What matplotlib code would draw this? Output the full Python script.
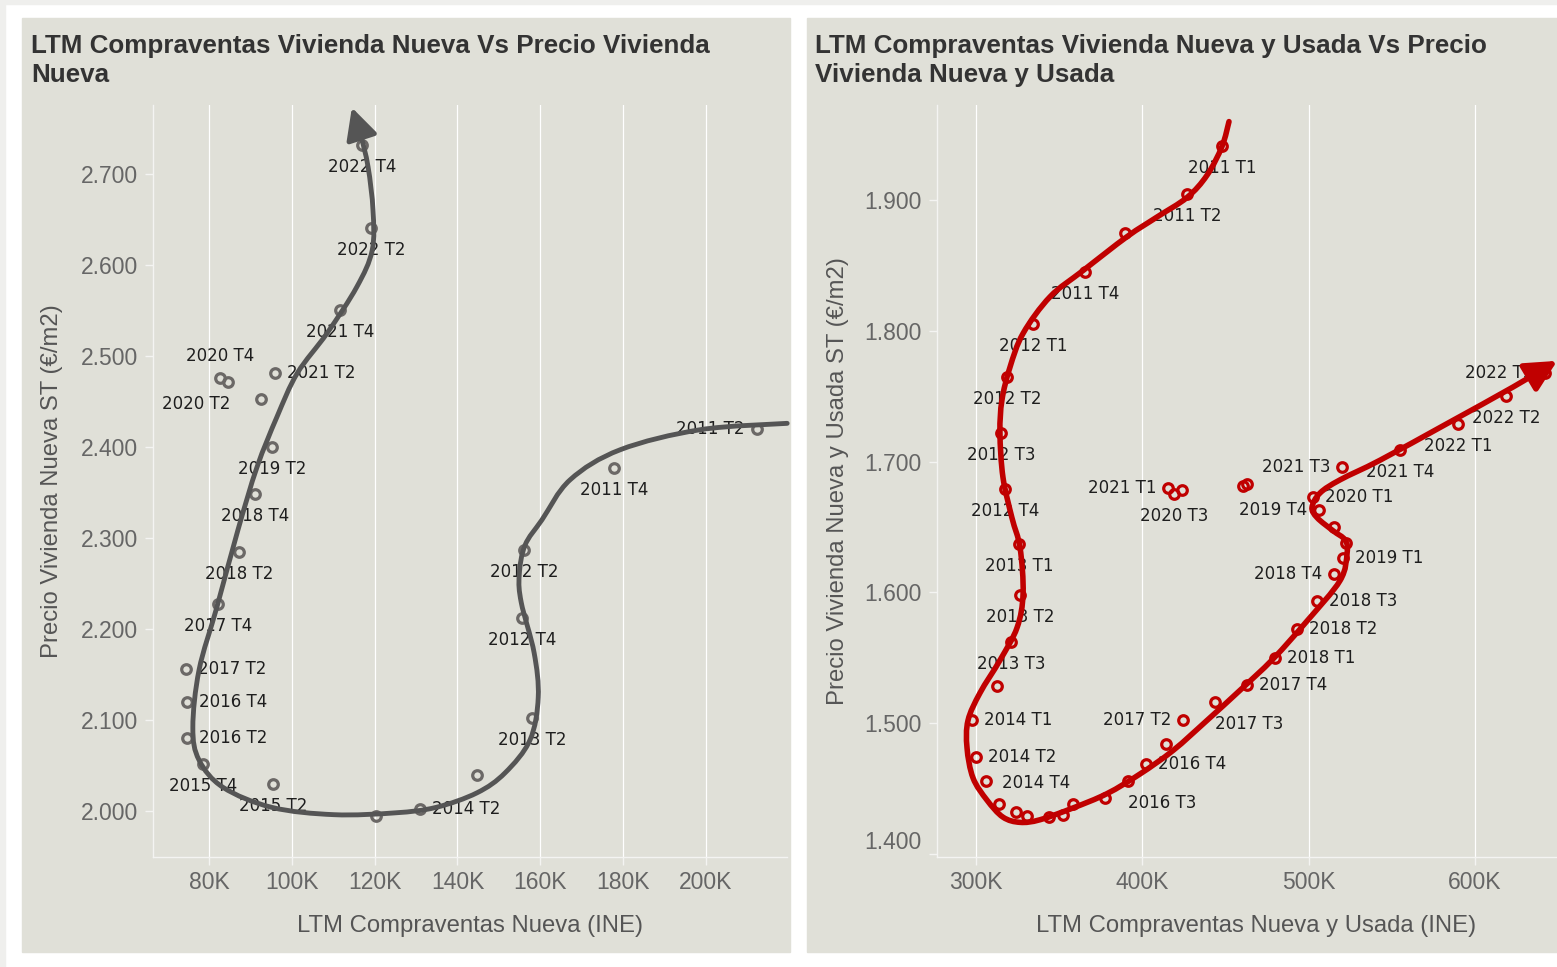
import numpy as np
import matplotlib
matplotlib.use("Agg")
from matplotlib import pyplot as plt
from matplotlib.path import Path
from matplotlib.patches import FancyArrowPatch, Rectangle

# ---- left chart: new homes, half-yearly (LTM sales in thousands, price EUR/m2)
leftPeriods = ["2011 T2", "2011 T4", "2012 T2", "2012 T4", "2013 T2", "2013 T4",
               "2014 T2", "2014 T4", "2015 T2", "2015 T4", "2016 T2", "2016 T4",
               "2017 T2", "2017 T4", "2018 T2", "2018 T4", "2019 T2", "2019 T4",
               "2020 T2", "2020 T4", "2021 T2", "2021 T4", "2022 T2", "2022 T4"]
leftSalesK = [212.3, 177.8, 156.1, 155.6, 158.0, 144.7, 130.9, 120.3, 95.5, 78.6,
              74.7, 74.7, 74.4, 82.2, 87.2, 91.1, 95.2, 92.6, 84.6, 82.7,
              95.9, 111.6, 119.1, 116.9]
leftPrice = [2420, 2377, 2287, 2212, 2102, 2040, 2002, 1995, 2030, 2052,
             2080, 2120, 2156, 2227, 2285, 2348, 2400, 2453, 2471, 2476,
             2481, 2551, 2641, 2732]
leftLabelPos = {"2011 T2": "left", "2011 T4": "below", "2012 T2": "below", "2012 T4": "below",
                "2013 T2": "below", "2014 T2": "right", "2015 T2": "below", "2015 T4": "below",
                "2016 T2": "right", "2016 T4": "right", "2017 T2": "right", "2017 T4": "below",
                "2018 T2": "below", "2018 T4": "below", "2019 T2": "below", "2020 T2": "below-left",
                "2020 T4": "above", "2021 T2": "right", "2021 T4": "below", "2022 T2": "below",
                "2022 T4": "below"}
# hand drawn trend arrow (waypoints)
leftTrendX = [219.6, 198.6, 179.3, 167.2, 160.4, 156.3, 154.9, 155.4, 158.5, 159.5, 157.5,
              151.5, 144.7, 134.8, 124.9, 110.2, 95.2, 83.4, 77.6, 76.1, 77.6, 81.9, 87.0,
              91.6, 96.4, 101.3, 108.5, 115.7, 119.4, 119.6, 118.4, 116.5, 114.5]
leftTrendY = [2426, 2419, 2397, 2364, 2320, 2292, 2259, 2229, 2174, 2125, 2078,
              2042, 2020, 2004, 1998, 1996, 2004, 2026, 2056, 2092, 2155, 2224, 2309,
              2378, 2433, 2481, 2525, 2576, 2616, 2660, 2708, 2745, 2773]

# ---- right chart: new + used homes, quarterly
rightPeriods = [f"{y} T{q}" for y in range(2011, 2023) for q in range(1, 5)][:47]
rightSalesK = [447.9, 426.9, 389.6, 365.5, 334.3, 318.6, 315.0, 317.4, 325.9, 326.5,
               321.0, 312.6, 297.6, 300.0, 306.0, 313.8, 324.1, 330.7, 343.9, 352.3,
               358.3, 377.6, 391.4, 402.2, 414.3, 424.5, 443.7, 463.0, 479.8, 493.0,
               505.1, 515.3, 520.7, 522.5, 515.3, 506.3, 502.6, 460.6, 419.1, 423.9,
               415.5, 463.0, 520.1, 555.0, 589.8, 618.7, 642.1]
rightPrice = [1941, 1905, 1875, 1845, 1805, 1765, 1722, 1679, 1637, 1598,
              1562, 1528, 1502, 1474, 1456, 1438, 1432, 1429, 1428, 1430,
              1438, 1443, 1456, 1469, 1484, 1502, 1516, 1529, 1550, 1572,
              1593, 1614, 1626, 1638, 1650, 1663, 1673, 1681, 1675, 1678,
              1680, 1683, 1696, 1709, 1729, 1750, 1768]
rightLabelPos = {"2011 T1": "below", "2011 T2": "below", "2011 T4": "below", "2012 T1": "below",
                 "2012 T2": "below", "2012 T3": "below", "2012 T4": "below", "2013 T1": "below",
                 "2013 T2": "below", "2013 T3": "below", "2014 T1": "right", "2014 T2": "right",
                 "2014 T4": "above-right", "2016 T3": "below-right", "2016 T4": "right",
                 "2017 T2": "left", "2017 T3": "below-right", "2017 T4": "right", "2018 T1": "right",
                 "2018 T2": "right", "2018 T3": "right", "2018 T4": "left", "2019 T1": "right",
                 "2019 T4": "left", "2020 T1": "right", "2020 T3": "below", "2021 T1": "left",
                 "2021 T3": "left", "2021 T4": "below", "2022 T1": "below", "2022 T2": "below",
                 "2022 T3": "left"}
rightTrendX = [452.1, 447.9, 438.9, 426.9, 408.8, 390.8, 364.3, 344.5, 328.3, 320.4, 315.6,
               314.4, 316.2, 321.6, 326.5, 328.3, 324.7, 314.4, 302.4, 295.2, 294.6, 298.2,
               306.6, 316.2, 326.5, 338.5, 358.3, 378.8, 398.6, 418.5, 438.9, 458.7, 478.6,
               499.0, 518.9, 523.1, 521.9, 514.7, 505.1, 502.0, 506.9, 518.9, 542.9, 583.2,
               622.9, 649.4]
rightTrendY = [1960, 1941, 1919, 1902, 1887, 1872, 1846, 1826, 1798, 1772, 1747,
               1722, 1688, 1657, 1634, 1599, 1573, 1548, 1523, 1502, 1481, 1458,
               1441, 1428, 1424, 1426, 1435, 1446, 1461, 1479, 1502, 1525, 1549,
               1578, 1609, 1630, 1640, 1647, 1657, 1665, 1676, 1686, 1701, 1729,
               1757, 1777]

W, H = 1557, 967
PANEL = "#e0e0d8"
TEXT = "#333333"
TICK = "#666666"
# label placement: (dx px, dy px, ha)
PLACE = {"below": (0, -22, "center"), "above": (0, 22, "center"),
         "right": (12, 0, "left"), "left": (-12, 0, "right"),
         "below-right": (0, -22, "left"), "above-right": (3, 21, "left"),
         "below-left": (2, -22, "right")}

plt.rcParams["font.family"] = ["Liberation Sans", "DejaVu Sans"]


def smoothPath(xs, ys):
    # catmull-rom through the waypoints, as cubic bezier segments
    pts = np.column_stack([xs, ys]).astype(float)
    ext = np.vstack([pts[0], pts, pts[-1]])
    verts = [pts[0]]
    codes = [Path.MOVETO]
    for i in range(1, len(ext) - 2):
        p0, p1, p2, p3 = ext[i-1], ext[i], ext[i+1], ext[i+2]
        verts += [p1 + (p2 - p0) / 6, p2 - (p3 - p1) / 6, p2]
        codes += [Path.CURVE4] * 3
    return Path(verts, codes)


def thousands(v, pos=None):
    return f"{v:,.0f}".replace(",", ".")


def drawPanel(rect, titleLines, titleX, xs, ys, periods, labelPos, trendX, trendY,
              color, lineColor, lineWidth, xlim, ylim, xticks, yticks, xlabel, ylabel, xlabelX):
    ax = fig.add_axes(rect)
    ax.set_facecolor("none")
    for i, line in enumerate(titleLines):
        fig.text(titleX / W, 1 - (53 + 29 * i) / H, line, fontsize=18.7, fontweight="bold",
                 color=TEXT, ha="left", va="baseline")
    ax.plot(xs, ys, "o", ms=6.9, mfc="none", mec=color, mew=2.3, zorder=3)
    for x, y, p in zip(xs, ys, periods):
        if p in labelPos:
            dx, dy, ha = PLACE[labelPos[p]]
            ax.annotate(p, (x, y), xytext=(dx * 0.72, dy * 0.72), textcoords="offset points",
                        ha=ha, va="center", fontsize=12, color="#1e1e1e",
                        family="DejaVu Sans", zorder=4, annotation_clip=False)
    arrow = FancyArrowPatch(path=smoothPath(trendX, trendY),
                            arrowstyle="-|>,head_length=0.95,head_width=0.48",
                            mutation_scale=20, lw=lineWidth, color=lineColor,
                            transform=ax.transData, zorder=5)
    arrow.set_clip_on(False)
    ax.add_artist(arrow)
    ax.set_xlim(*xlim)
    ax.set_ylim(*ylim)
    ax.set_xticks(xticks, [f"{v:.0f}K" for v in xticks])
    ax.set_yticks(yticks, [thousands(v) for v in yticks])
    ax.grid(axis="x", color="white", lw=0.9)
    ax.set_axisbelow(True)
    for s in ["top", "right"]:
        ax.spines[s].set_visible(False)
    for s in ["left", "bottom"]:
        ax.spines[s].set_color("#f4f4f2")
        ax.spines[s].set_linewidth(1.0)
    ax.tick_params(length=6, width=1, color="#f4f4f2", labelcolor=TICK, labelsize=16.5)
    ax.tick_params(axis="x", pad=4)
    ax.tick_params(axis="y", pad=5)
    ax.set_xlabel(xlabel, fontsize=17.2, color="#555555")
    ax.set_ylabel(ylabel, fontsize=17.2, color="#555555")
    ax.xaxis.set_label_coords(xlabelX, -0.0918)
    ax.xaxis.label.set_verticalalignment("center")
    ax.yaxis.set_label_coords(-0.1600, 0.5)
    ax.yaxis.label.set_verticalalignment("center")
    return ax


fig = plt.figure(figsize=(W / 100, H / 100), dpi=100)
fig.set_facecolor("white")
# thin grey frame at top / left and the two panel backgrounds (behind the axes)
fig.patches.append(Rectangle((0, 1 - 4 / H), 1, 4 / H, transform=fig.transFigure,
                             color="#efefed", zorder=-2))
fig.patches.append(Rectangle((0, 0), 5 / W, 1, transform=fig.transFigure,
                             color="#efefed", zorder=-2))
fig.patches.append(Rectangle((22 / W, 15 / H), 768 / W, 934 / H, transform=fig.transFigure,
                             color=PANEL, zorder=-1))
fig.patches.append(Rectangle((807 / W, 15 / H), 750 / W, 934 / H, transform=fig.transFigure,
                             color=PANEL, zorder=-1))

axL = drawPanel([153 / W, 110 / H, 634 / W, 752 / H],
                ["LTM Compraventas Vivienda Nueva Vs Precio Vivienda", "Nueva"], 31,
                leftSalesK, leftPrice, leftPeriods, leftLabelPos, leftTrendX, leftTrendY,
                "#6b6866", "#555555", 3.5, (66.48, 219.56), (1949.5, 2775.8),
                [80, 100, 120, 140, 160, 180, 200], [2000, 2100, 2200, 2300, 2400, 2500, 2600, 2700],
                "LTM Compraventas Nueva (INE)", "Precio Vivienda Nueva ST (€/m2)", 0.5)

axR = drawPanel([937 / W, 110 / H, 620 / W, 752 / H],
                ["LTM Compraventas Vivienda Nueva y Usada Vs Precio", "Vivienda Nueva y Usada"], 815,
                rightSalesK, rightPrice, rightPeriods, rightLabelPos, rightTrendX, rightTrendY,
                "#c00000", "#c00000", 4.0, (276.55, 649.3), (1397.5, 1972.7),
                [300, 400, 500, 600], [1400, 1500, 1600, 1700, 1800, 1900],
                "LTM Compraventas Nueva y Usada (INE)", "Precio Vivienda Nueva y Usada ST (€/m2)", 0.5145)
# bottom tick label sits on the axis edge, lift it like the original
axR.yaxis.get_major_ticks()[0].label1.set_verticalalignment("bottom")

fig.savefig("out.png", dpi=100)
